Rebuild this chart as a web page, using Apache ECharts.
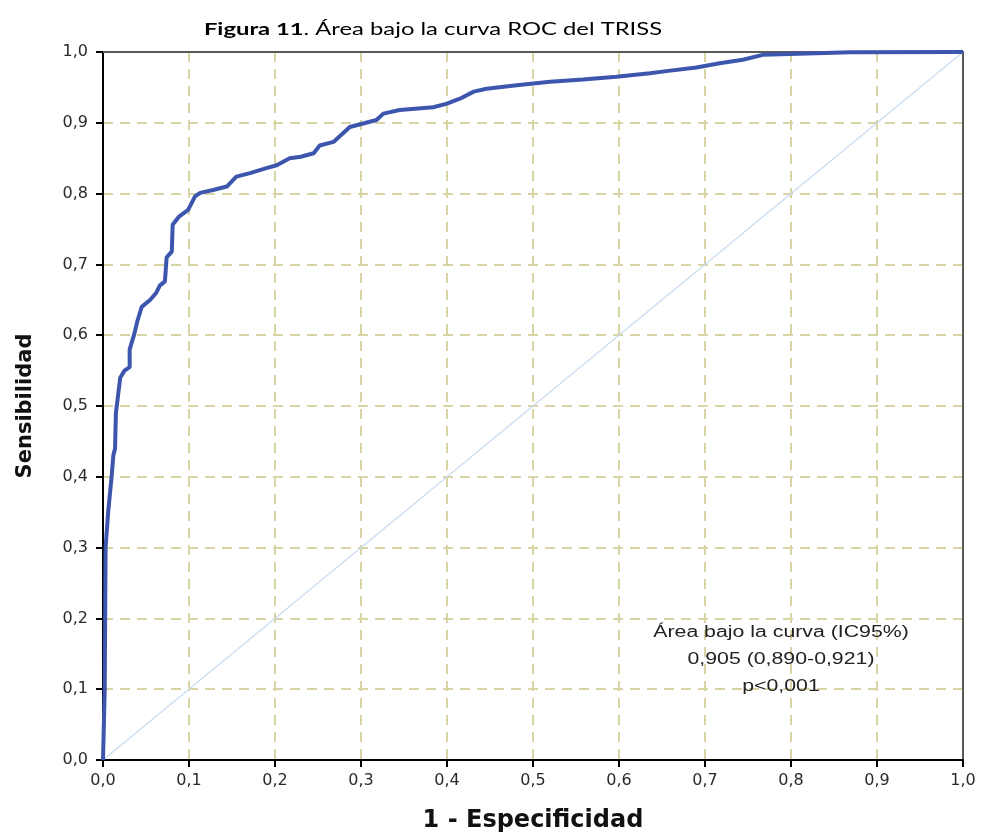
<!DOCTYPE html>
<html>
<head>
<meta charset="utf-8">
<script src="https://cdn.jsdelivr.net/npm/echarts@6/dist/echarts.min.js"></script>
<style>
html,body{margin:0;padding:0;background:#fff;}
#chart{width:981px;height:832px;}
</style>
</head>
<body>
<div id="chart"></div>
<script>
// 1 - Especificidad (false positive rate)
const fpr = [0,0.002,0.003,0.006,0.010,0.012,0.014,0.015,0.017,0.020,0.025,0.031,0.031,0.036,0.040,0.045,0.055,0.062,0.066,0.072,0.074,0.080,0.081,0.088,0.099,0.107,0.113,0.128,0.144,0.155,0.171,0.190,0.202,0.217,0.230,0.245,0.252,0.268,0.287,0.318,0.326,0.345,0.384,0.400,0.415,0.431,0.446,0.481,0.520,0.558,0.597,0.636,0.655,0.690,0.717,0.744,0.767,0.799,0.869,1.0];
// Sensibilidad (true positive rate)
const tpr = [0,0.10,0.30,0.35,0.40,0.43,0.44,0.49,0.51,0.54,0.55,0.555,0.58,0.60,0.62,0.64,0.65,0.66,0.67,0.676,0.71,0.718,0.756,0.767,0.777,0.796,0.801,0.805,0.810,0.824,0.829,0.836,0.840,0.850,0.852,0.857,0.868,0.873,0.894,0.904,0.913,0.918,0.922,0.927,0.934,0.944,0.948,0.953,0.958,0.961,0.965,0.970,0.973,0.978,0.984,0.989,0.996,0.997,0.9996,1.0];
const refX = [0,1];
const refY = [0,1];
const titleBold = 'Figura 11';
const titleRest = '. Área bajo la curva ROC del TRISS';
const xName = '1 - Especificidad';
const yName = 'Sensibilidad';
const annot = ['Área bajo la curva (IC95%)','0,905 (0,890-0,921)','p<0,001'];

const fmt = v => v.toFixed(1).replace('.', ',');
const chart = echarts.init(document.getElementById('chart'));
const labelStyle = {formatter:fmt, color:'#2a2a2a', fontFamily:'DejaVu Sans', fontSize:16};
const axisCommon = {
  type:'value', min:0, max:1, interval:0.1,
  axisLine:{show:true, lineStyle:{color:'#000', width:2}},
  axisTick:{show:true, length:7, lineStyle:{color:'#000', width:2}},
  splitLine:{show:true, lineStyle:{color:'#d9d4a4', type:[10,7], width:2}},
  nameLocation:'middle'
};
const frameAxis = {
  type:'value', min:0, max:1, interval:0.1,
  axisLine:{show:true, onZero:false, lineStyle:{color:'#5a5a5a', width:2}},
  axisTick:{show:false}, axisLabel:{show:false}, splitLine:{show:false}
};
chart.setOption({
  animation:false,
  backgroundColor:'#fff',
  grid:{left:103, right:18, top:52, bottom:72, outerBoundsMode:'none', containLabel:false},
  xAxis:[
    Object.assign({}, axisCommon, {
      name:xName, nameGap:49,
      axisLabel:Object.assign({}, labelStyle, {margin:13}),
      nameTextStyle:{fontFamily:'DejaVu Sans', fontWeight:'bold', fontSize:24, color:'#111'}
    }),
    Object.assign({}, frameAxis, {position:'top'})
  ],
  yAxis:[
    Object.assign({}, axisCommon, {
      name:yName, nameGap:67,
      axisLabel:Object.assign({}, labelStyle, {margin:15}),
      nameTextStyle:{fontFamily:'DejaVu Sans', fontWeight:'bold', fontSize:21, color:'#111'}
    }),
    Object.assign({}, frameAxis, {position:'right'})
  ],
  series:[
    {type:'line', data:refX.map((x,i)=>[x,refY[i]]), symbol:'none',
     lineStyle:{color:'#c8dcf0', width:1.2}, silent:true, z:2},
    {type:'line', data:fpr.map((x,i)=>[x,tpr[i]]), symbol:'none',
     lineStyle:{color:'#3d56ad', width:4}, z:3}
  ],
  graphic:[
    {type:'text', x:433, y:30, scaleX:1.4, z:10,
     style:{text:'{b|'+titleBold+'}{r|'+titleRest+'}', textAlign:'center', textVerticalAlign:'middle',
       rich:{
         b:{fontFamily:'Lato', fontWeight:'bold', fontSize:17, fill:'#000'},
         r:{fontFamily:'Lato', fontSize:17, fill:'#000'}
       }}}
  ].concat(annot.map((t,i)=>({
    type:'text', x:781, y:633+i*27, z:10, scaleX:1.33,
    style:{text:t, fill:'#222', font:'16px "Liberation Sans"', textAlign:'center', textVerticalAlign:'middle'}
  })))
});
</script>
</body>
</html>
